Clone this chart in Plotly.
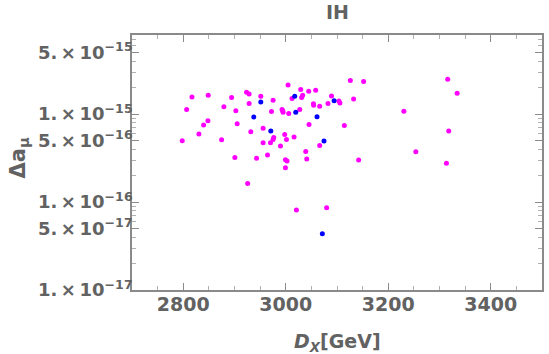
import plotly.graph_objects as go

# magenta points: D_X [GeV], delta a_mu
mag_x = [2798, 2806.6, 2817, 2830.6, 2839.7, 2848.1, 2848.7, 2874.8, 2879.3, 2894.3,
         2900.7, 2902.6, 2905.2, 2923.5, 2925.7, 2928.5, 2928.5, 2931.8, 2943, 2951.3,
         2955.8, 2955.8, 2964.4, 2970.2, 2972.2, 2975.3, 2976.6, 2975.3, 2989.7, 2992.8,
         2994.0, 2994.8, 2998, 2999.4, 3002.5, 2999.4, 3001.4, 3004.5, 3005.8, 3012.3,
         3016.2, 3020.8, 3027.3, 3029.2, 3031, 3033, 3039, 3041, 3044.8, 3045.4,
         3054, 3054.5, 3058.4, 3066.2, 3066.2, 3079.8, 3082.4, 3089.3, 3103.8, 3105.7,
         3114.3, 3126, 3132.4, 3142.2, 3151.9, 3230.4, 3253.8, 3313.5, 3316, 3318, 3334.4]
mag_y = [4.98e-16, 1.13e-15, 1.57e-15, 5.93e-16, 7.5e-16, 8.4e-16, 1.64e-15, 5.1e-16, 1.21e-15, 1.55e-15,
         3.22e-16, 1.09e-15, 7.8e-16, 1.77e-15, 1.63e-16, 1.69e-15, 1.32e-15, 6.3e-16, 3.16e-16, 1.6e-15,
         6.9e-16, 4.72e-16, 3.42e-16, 4.72e-16, 1.07e-15, 1.44e-15, 5.43e-16, 5.15e-16, 4.33e-16, 1.13e-15,
         1.09e-15, 1.05e-15, 5.88e-16, 3.03e-16, 2.94e-16, 2.45e-16, 5.15e-16, 2.14e-15, 1.02e-15, 1.51e-15,
         5.5e-16, 8.1e-17, 1.13e-15, 1.91e-15, 1.55e-15, 1.64e-15, 3.77e-16, 3.08e-16, 1.82e-15, 7.6e-16,
         1.31e-15, 1.26e-15, 1.87e-15, 4.4e-16, 1.23e-15, 8.6e-17, 1.32e-15, 1.61e-15, 1.41e-15, 1.34e-15,
         7.44e-16, 2.41e-15, 1.49e-15, 3.0e-16, 2.35e-15, 1.08e-15, 3.73e-16, 2.77e-16, 2.5e-15, 6.41e-16, 1.73e-15]

# blue points
blue_x = [2937.7, 2951.3, 2970.8, 3017.5, 3019.5, 3061, 3074.6, 3071.4, 3094.4]
blue_y = [9.25e-16, 1.37e-15, 6.45e-16, 1.6e-15, 1.05e-15, 9.33e-16, 4.95e-16, 4.37e-17, 1.42e-15]

y_tickvals = [1e-17, 5e-17, 1e-16, 5e-16, 1e-15, 5e-15]
y_ticktext = ["1.\u2009×\u200910<sup>−17</sup>", "5.\u2009×\u200910<sup>−17</sup>",
              "1.\u2009×\u200910<sup>−16</sup>", "5.\u2009×\u200910<sup>−16</sup>",
              "1.\u2009×\u200910<sup>−15</sup>", "5.\u2009×\u200910<sup>−15</sup>"]
y_minor = [m * 10.0 ** e for e in (-17, -16, -15) for m in (2, 3, 4, 6, 7, 8, 9)]

GRAY = "#626262"
FRAME = "#8a8a8a"
FONT = "DejaVu Sans, sans-serif"

fig = go.Figure()
fig.add_trace(go.Scatter(x=mag_x, y=mag_y, mode="markers",
                         marker=dict(color="#ff00ff", size=5), showlegend=False))
fig.add_trace(go.Scatter(x=blue_x, y=blue_y, mode="markers",
                         marker=dict(color="#0000ff", size=5), showlegend=False))

fig.update_layout(
    width=549, height=354,
    margin=dict(l=132, r=7, t=35, b=64),
    plot_bgcolor="white", paper_bgcolor="white",
    font=dict(family=FONT, color=GRAY, size=19, weight="bold"),
    xaxis=dict(
        range=[2700, 3500], tick0=2800, dtick=200, automargin=False,
        ticks="inside", ticklen=7, tickcolor=FRAME, tickwidth=1,
        minor=dict(dtick=50, ticks="inside", ticklen=4, tickcolor="#b0b0b0"),
        showline=True, linecolor=FRAME, linewidth=1.5, mirror="ticks",
        showgrid=False, zeroline=False, ticklabelstandoff=-4,
        tickfont=dict(family=FONT, size=19, color=GRAY, weight="bold"),
    ),
    yaxis=dict(
        type="log", range=[-17, -14.1], automargin=False,
        tickmode="array", tickvals=y_tickvals, ticktext=y_ticktext,
        ticks="inside", ticklen=7, tickcolor=FRAME, tickwidth=1,
        minor=dict(tickmode="array", tickvals=y_minor, ticks="inside", ticklen=4, tickcolor="#b0b0b0"),
        showline=True, linecolor=FRAME, linewidth=1.5, mirror="ticks",
        showgrid=False, zeroline=False, ticklabelstandoff=-6,
        tickfont=dict(family=FONT, size=18, color=GRAY, weight="bold"),
    ),
    annotations=[
        dict(text="IH", xref="paper", yref="paper", x=0.5, y=1, yshift=23,
             xanchor="center", yanchor="middle", showarrow=False,
             font=dict(family=FONT, size=19, color=GRAY, weight="bold")),
        dict(text="<i>D</i><sub><i>X</i></sub>[GeV]", xref="paper", yref="paper",
             x=0.5, y=0, yshift=-52, xanchor="center", yanchor="middle", showarrow=False,
             font=dict(family=FONT, size=19, color=GRAY, weight="bold")),
        dict(text="Δa<sub>μ</sub>", xref="paper", yref="paper", x=0, y=0.5,
             xshift=-114, yshift=4, xanchor="center", yanchor="middle", textangle=-90,
             showarrow=False, font=dict(family=FONT, size=21, color=GRAY, weight="bold")),
    ],
)

# drop the default 8px page margin so the figure sits at the window's corner
fig.write_html("out.html", config={"displayModeBar": False},
               post_script="document.body.style.margin='0';")
